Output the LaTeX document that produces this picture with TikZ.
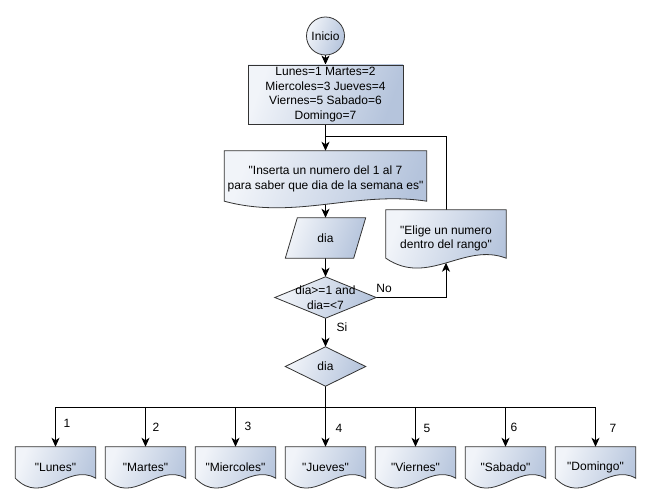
\documentclass[tikz,border=0pt]{standalone}
\usepackage{fontspec}
\setmainfont{Liberation Sans}[Ligatures=TeXOff]
\usetikzlibrary{arrows.meta,calc}

\pgfdeclarelayer{wires}
\pgfdeclarelayer{shapes}
\pgfsetlayers{wires,shapes,main}

\definecolor{fillL}{HTML}{F1F4F9}
\definecolor{fillR}{HTML}{B5C4DC}
\definecolor{edge}{HTML}{333333}

\tikzset{
  txt/.style={font=\fontsize{12}{14.5}\selectfont},
  shapefill/.style={left color=fillL, right color=fillR, shading angle=70},
  outline/.style={draw=edge, line width=0.8pt},
  box/.style={rectangle, inner sep=0pt, align=center, txt},
  wire/.style={draw=black, line width=1pt,
    -{Stealth[length=9pt,width=8pt,inset=2.5pt]}},
  plainwire/.style={draw=black, line width=1pt},
  tag/.style={inner sep=0pt, txt},
}

% document symbol: flat top, wavy bottom (#2 = depth of the wave)
\newcommand\docshape[2]{%
  \path[shapefill, outline]
    (#1.north west) -- ($(#1.south west)+(0,-#2)$)
    .. controls ($(#1.south west)!0.35!(#1.south east)+(0,2.2*#2)$)
    and ($(#1.south west)!0.65!(#1.south east)+(0,-2.8*#2)$)
    .. ($(#1.south east)+(0,-#2)$) -- (#1.north east) -- cycle;}
% data symbol: parallelogram slanted by #2
\newcommand\datashape[2]{%
  \path[shapefill, outline]
    ($(#1.north west)+(#2,0)$) -- (#1.north east)
    -- ($(#1.south east)+(-#2,0)$) -- (#1.south west) -- cycle;}
% decision symbol
\newcommand\decshape[1]{%
  \path[shapefill, outline]
    (#1.north) -- (#1.east) -- (#1.south) -- (#1.west) -- cycle;}

\begin{document}
\begin{tikzpicture}[x=1pt,y=-1pt]
\useasboundingbox (0,0) rectangle (668,502);

% ---- nodes ----
\node[circle, outline, shapefill, minimum size=38pt, inner sep=0pt, txt]
  (inicio) at (325.5,36) {Inicio};
\node[box, outline, shapefill, minimum width=155pt, minimum height=59pt]
  (vars) at (325.5,94.5)
  {Lunes=1 Martes=2\\Miercoles=3 Jueves=4\\Viernes=5 Sabado=6\\Domingo=7};
\node[box, minimum width=202pt, minimum height=56pt] (ins) at (325.5,179)
  {"Inserta un numero del 1 al 7\\para saber que dia de la semana es"};
\node[box, minimum width=80pt, minimum height=40pt] (dia) at (325.5,238) {dia};
\node[box, minimum width=101pt, minimum height=41pt] (cond) at (325.5,297.5)
  {dia>=1 and\\dia=<7};
\node[box, minimum width=120pt, minimum height=57pt] (elige) at (446,238.5)
  {"Elige un numero\\dentro del rango"};
\node[box, minimum width=80pt, minimum height=39pt] (sel) at (325.5,366.5) {dia};

\foreach \nm/\word [count=\i from 0] in
  {lunes/Lunes, martes/Martes, miercoles/Miercoles, jueves/Jueves,
   viernes/Viernes, sabado/Sabado, domingo/Domingo}
  \node[box, minimum width=80pt, minimum height=40pt]
    (\nm) at (55.5+90*\i,467) {"\word"};

% ---- symbols ----
\begin{pgfonlayer}{shapes}
  \docshape{ins}{6}
  \docshape{elige}{9}
  \foreach \nm in {lunes,martes,miercoles,jueves,viernes,sabado,domingo}
    {\docshape{\nm}{9}}
  \datashape{dia}{12}
  \decshape{cond}
  \decshape{sel}
\end{pgfonlayer}

% ---- connectors ----
\begin{pgfonlayer}{wires}
  \fill[white] (0,0) rectangle (668,502);
  \coordinate (loopjoin) at (325.5,137);
  \coordinate (eligein) at ($(elige.south)+(0,-4.5)$);
  \coordinate (bus) at (325.5,407);

  \draw[wire] (inicio.south) -- (vars.north);
  \draw[wire] (vars.south) -- (ins.north);
  \draw[plainwire] (elige.north) |- (loopjoin);
  \draw[wire] (ins.center) -- (dia.north);
  \draw[wire] (dia.south) -- (cond.north);
  \draw[wire] (cond.east) -| (eligein);
  \draw[wire] (cond.south) -- (sel.north);
  \draw[plainwire] (sel.south) -- (bus);
  \foreach \nm in {lunes,martes,miercoles,jueves,viernes,sabado,domingo}
    \draw[wire] (bus) -| (\nm.north);
\end{pgfonlayer}

% ---- branch labels ----
\node[tag] (nolbl) at (384,288) {No};
\node[tag] (silbl) at (342,327) {Si};
\foreach \t/\x/\y in {1/67/423, 2/156/427, 3/248/426, 4/339/428,
                      5/427/428, 6/514/427, 7/613/428}
  \node[tag] (case\t) at (\x,\y) {\t};
\end{tikzpicture}
\end{document}
